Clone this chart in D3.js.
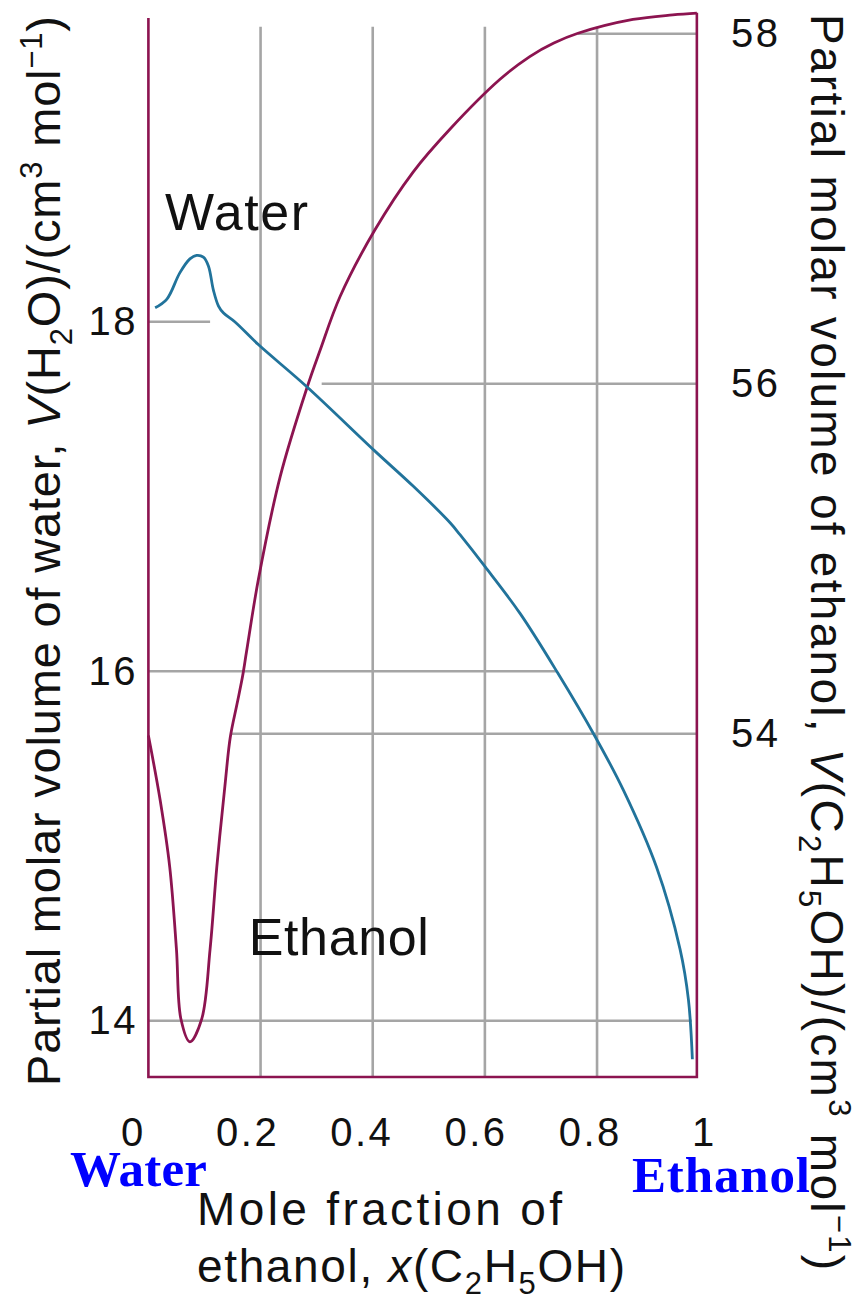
<!DOCTYPE html>
<html>
<head>
<meta charset="utf-8">
<script src="https://cdn.jsdelivr.net/npm/d3@7"></script>
<style>
  html, body { margin: 0; padding: 0; background: #ffffff; }
  svg { display: block; }
</style>
</head>
<body>
<svg id="chart" width="857" height="1300"></svg>
<script>
// ---------------- data ----------------
const xTicks = [0, 0.2, 0.4, 0.6, 0.8, 1];
const leftTicks = [14, 16, 18];
const rightTicks = [54, 56, 58];
const gridX = [0.2, 0.4, 0.6, 0.8];

// horizontal grid lines (value, start/end in mole fraction)
const leftGridValues = [18, 16, 14];
const leftGridStart = [0, 0, 0];
const leftGridEnd = [0.11, 0.728, 0.969];
const rightGridValues = [58, 56, 54];
const rightGridStart = [0.766, 0.309, 0.149];
const rightGridEnd = [0.978, 0.978, 0.978];

// partial molar volume of ethanol (right axis)
const ethanolX = [0, 0.021, 0.038, 0.050, 0.058, 0.074, 0.095, 0.110, 0.122, 0.137, 0.146, 0.158, 0.168, 0.175, 0.196, 0.235, 0.282, 0.306, 0.342, 0.404, 0.472, 0.538, 0.627, 0.680, 0.723, 0.766, 0.864, 0.935, 0.978];
const ethanolV = [53.99, 53.62, 53.24, 52.77, 52.37, 52.24, 52.37, 52.77, 53.24, 53.72, 53.98, 54.17, 54.33, 54.47, 54.88, 55.47, 55.97, 56.19, 56.50, 56.88, 57.21, 57.456, 57.74, 57.87, 57.947, 58.003, 58.082, 58.108, 58.118];

// partial molar volume of water (left axis)
const waterX = [0.012, 0.033, 0.056, 0.074, 0.086, 0.098, 0.107, 0.116, 0.125, 0.134, 0.154, 0.196, 0.282, 0.404, 0.472, 0.538, 0.556, 0.600, 0.663, 0.730, 0.796, 0.847, 0.906, 0.948, 0.963, 0.970];
const waterV = [18.08, 18.13, 18.28, 18.36, 18.38, 18.37, 18.32, 18.18, 18.09, 18.05, 18.00, 17.87, 17.63, 17.26, 17.06, 16.85, 16.78, 16.60, 16.33, 15.99, 15.63, 15.32, 14.88, 14.41, 14.12, 13.78];

// ---------------- layout ----------------
const FONT = "'Liberation Sans', Arial, sans-serif";
const SERIF = "'Liberation Serif', 'Times New Roman', serif";
const MAROON = "#8c1450";
const TEAL = "#21739b";
const GRID = "#a5a5a5";
const plotBottom = 1077;
const leftTop = 18;
const rightTop = 12.7;
const gridTop = 26.7;
const frameRight = 0.978;

const svg = d3.select("#chart");
svg.append("rect").attr("width", 857).attr("height", 1300).attr("fill", "#fff");

const x = d3.scaleLinear().domain([0, 1]).range([148.4, 709.2]);
const xLab = d3.scaleLinear().domain([0, 1]).range([131.7, 702.7]);
const yL = d3.scaleLinear().domain([14, 18]).range([1020.8, 321.8]);
const yR = d3.scaleLinear().domain([54, 58]).range([733.8, 33.8]);

function fit(sel, target) {
  const node = sel.node();
  const n = node.textContent.length;
  sel.attr("letter-spacing", 0);
  const len = node.getComputedTextLength();
  sel.attr("letter-spacing", (target - len) / Math.max(1, n - 1));
}

// ---------------- grid ----------------
const grid = svg.append("g").attr("stroke", GRID).attr("stroke-width", 2.6).attr("fill", "none");
grid.selectAll("line.v").data(gridX).join("line").attr("class", "v")
  .attr("x1", d => x(d)).attr("x2", d => x(d))
  .attr("y1", plotBottom).attr("y2", gridTop);
grid.selectAll("line.hl").data(leftGridValues).join("line").attr("class", "hl")
  .attr("x1", (d, i) => x(leftGridStart[i])).attr("x2", (d, i) => x(leftGridEnd[i]))
  .attr("y1", d => yL(d)).attr("y2", d => yL(d));
grid.selectAll("line.hr").data(rightGridValues).join("line").attr("class", "hr")
  .attr("x1", (d, i) => x(rightGridStart[i])).attr("x2", (d, i) => x(rightGridEnd[i]))
  .attr("y1", d => yR(d)).attr("y2", d => yR(d));

// ---------------- curves ----------------
const smooth = d3.curveCatmullRom.alpha(0.5);
const ethLine = d3.line().x(d => x(d[0])).y(d => yR(d[1])).curve(smooth);
const watLine = d3.line().x(d => x(d[0])).y(d => yL(d[1])).curve(smooth);

svg.append("path").datum(d3.zip(ethanolX, ethanolV))
  .attr("d", ethLine).attr("fill", "none").attr("stroke", MAROON).attr("stroke-width", 2.8)
  .attr("stroke-linejoin", "round");
svg.append("path").datum(d3.zip(waterX, waterV))
  .attr("d", watLine).attr("fill", "none").attr("stroke", TEAL).attr("stroke-width", 2.8)
  .attr("stroke-linejoin", "round");

// ---------------- frame ----------------
svg.append("path")
  .attr("d", `M${x(0)},${leftTop}V${plotBottom}H${x(frameRight)}V${rightTop}`)
  .attr("fill", "none").attr("stroke", MAROON).attr("stroke-width", 2.6);

// ---------------- axes ----------------
function styleAxis(g) {
  g.select(".domain").remove();
  g.selectAll("line").remove();
  g.selectAll("text").attr("font-family", FONT).attr("font-size", 40)
    .attr("fill", "#111").attr("letter-spacing", 2.5);
}
svg.append("g").attr("transform", "translate(0,1118)")
  .call(d3.axisBottom(xLab).tickValues(xTicks).tickFormat(d => String(d)).tickSize(0).tickPadding(0))
  .call(styleAxis)
  .selectAll("text").attr("dy", "0.71em").attr("dx", 1.2);

svg.append("g").attr("transform", "translate(138,0)")
  .call(d3.axisLeft(yL).tickValues(leftTicks).tickFormat(d => String(d)).tickSize(0).tickPadding(0))
  .call(styleAxis);

svg.append("g").attr("transform", "translate(731,0)")
  .call(d3.axisRight(yR).tickValues(rightTicks).tickFormat(d => String(d)).tickSize(0).tickPadding(0))
  .call(styleAxis);

// ---------------- series labels ----------------
const wl = svg.append("text").attr("x", x(0.0296)).attr("y", yL(18.525))
  .attr("font-family", FONT).attr("font-size", 52).attr("fill", "#111").text("Water");
fit(wl, 143);
const el = svg.append("text").attr("x", x(0.179)).attr("y", yR(52.736))
  .attr("font-family", FONT).attr("font-size", 52).attr("fill", "#111").text("Ethanol");
fit(el, 180);

// blue end labels
const bw = svg.append("text").attr("x", 70).attr("y", 1186)
  .attr("font-family", SERIF).attr("font-weight", "bold").attr("font-size", 51)
  .attr("fill", "#0000ff").text("Water");
fit(bw, 137);
const be = svg.append("text").attr("x", 632).attr("y", 1192)
  .attr("font-family", SERIF).attr("font-weight", "bold").attr("font-size", 51)
  .attr("fill", "#0000ff").text("Ethanol");
fit(be, 178);

// ---------------- axis titles ----------------
function addParts(t, parts) {
  parts.forEach(p => {
    const ts = t.append("tspan").text(p.t);
    if (p.i) ts.attr("font-style", "italic");
    if (p.sub) ts.attr("font-size", 31).attr("dy", 12);
    if (p.sup) ts.attr("font-size", 31).attr("dy", -18);
    if (p.back) ts.attr("dy", p.back);
  });
}

// bottom title
const b1 = svg.append("text").attr("x", 197).attr("y", 1225)
  .attr("font-family", FONT).attr("font-size", 46).attr("fill", "#111").text("Mole fraction of");
fit(b1, 365);
const b2 = svg.append("text").attr("x", 197).attr("y", 1282)
  .attr("font-family", FONT).attr("font-size", 46).attr("fill", "#111");
addParts(b2, [
  {t: "ethanol, "}, {t: "x", i: true}, {t: "(C"}, {t: "2", sub: true}, {t: "H", back: -12},
  {t: "5", sub: true}, {t: "OH)", back: -12}
]);
fit(b2, 428);

// left title
const lt = svg.append("text").attr("transform", "translate(60,1086) rotate(-90)")
  .attr("font-family", FONT).attr("font-size", 47).attr("fill", "#111");
addParts(lt, [
  {t: "Partial molar volume of water, "}, {t: "V", i: true}, {t: "(H"}, {t: "2", sub: true},
  {t: "O)/(cm", back: -12}, {t: "3", sup: true}, {t: " mol", back: 18}, {t: "\u22121", sup: true},
  {t: ")", back: 18}
]);
fit(lt, 1070);

// right title
const rt = svg.append("text").attr("transform", "translate(811,14) rotate(90)")
  .attr("font-family", FONT).attr("font-size", 46).attr("fill", "#111");
addParts(rt, [
  {t: "Partial molar volume of ethanol, "}, {t: "V", i: true}, {t: "(C"}, {t: "2", sub: true},
  {t: "H", back: -12}, {t: "5", sub: true}, {t: "OH)/(cm", back: -12}, {t: "3", sup: true},
  {t: " mol", back: 18}, {t: "\u22121", sup: true}, {t: ")", back: 18}
]);
fit(rt, 1256);
</script>
</body>
</html>
